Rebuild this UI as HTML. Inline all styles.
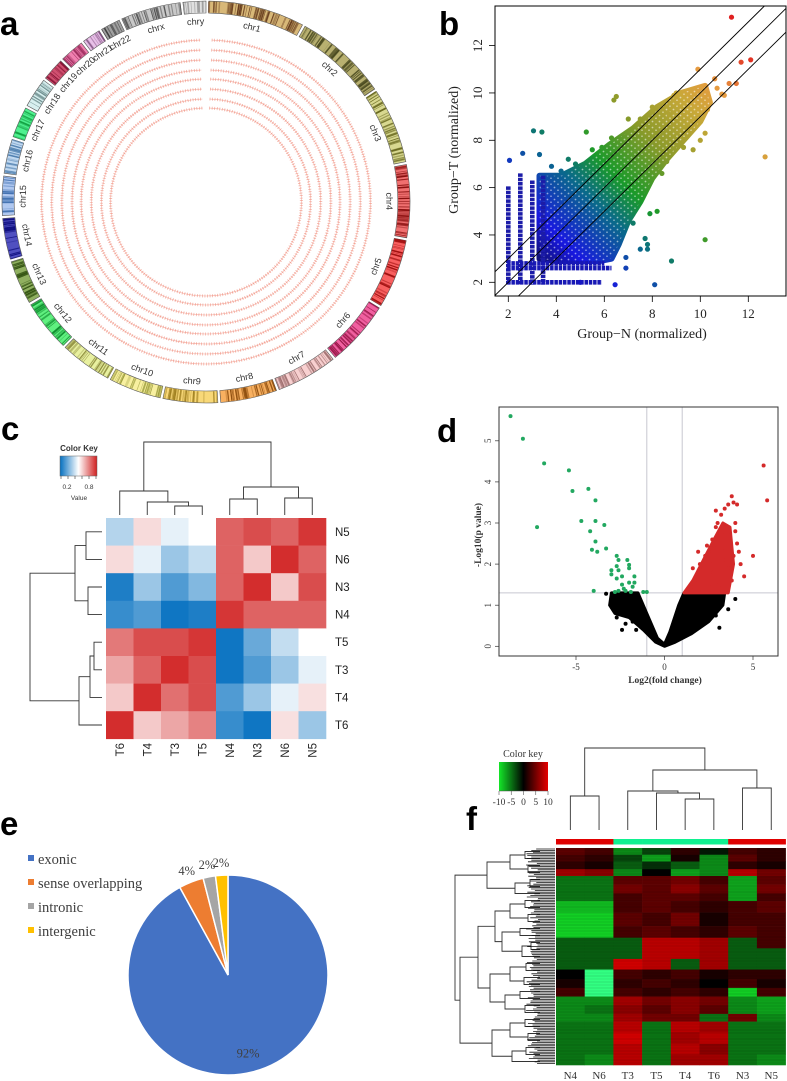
<!DOCTYPE html>
<html><head><meta charset="utf-8">
<style>
html,body{margin:0;padding:0;background:#fff;}
svg{display:block;}
</style></head>
<body>
<svg id="fig" width="787" height="1081" viewBox="0 0 787 1081" xmlns="http://www.w3.org/2000/svg">
<defs>
  <clipPath id="clipB"><rect x="495" y="6" width="291" height="290"/></clipPath>
  <clipPath id="clipD"><rect x="499" y="407" width="279" height="249"/></clipPath>
  <linearGradient id="keyC" x1="0" x2="1" y1="0" y2="0">
    <stop offset="0" stop-color="#0570c0"/><stop offset="0.5" stop-color="#ffffff"/><stop offset="1" stop-color="#d02020"/>
  </linearGradient>
  <linearGradient id="keyF" x1="0" x2="1" y1="0" y2="0">
    <stop offset="0" stop-color="#14e628"/><stop offset="0.5" stop-color="#000000"/><stop offset="1" stop-color="#e60000"/>
  </linearGradient>
  <pattern id="speckle" width="7" height="6" patternUnits="userSpaceOnUse">
    <circle cx="1.5" cy="1.5" r="0.9" fill="#fff"/><circle cx="5" cy="4.2" r="0.8" fill="#fff"/>
  </pattern>
</defs>
<g font-family="Liberation Sans, sans-serif" font-weight="bold" font-size="33" fill="#000">
  <text x="0" y="35">a</text>
  <text x="439" y="35">b</text>
  <text x="1" y="440">c</text>
  <text x="437" y="442">d</text>
  <text x="0" y="835">e</text>
  <text x="466" y="830">f</text>
</g>
</svg>
<script>
const NS='http://www.w3.org/2000/svg';
const svg=document.getElementById('fig');
function el(tag,parent){const e=document.createElementNS(NS,tag);(parent||svg).appendChild(e);return e;}
function at(e,o){for(const k in o)e.setAttribute(k,o[k]);return e;}
function txt(e,s){e.textContent=s;return e;}
let seed=7;function rnd(){seed=(seed*16807)%2147483647;return (seed-1)/2147483646;}

/* ================= Panel a: circos ================= */
const chrNames=['chr1','chr2','chr3','chr4','chr5','chr6','chr7','chr8','chr9','chr10','chr11','chr12','chr13','chr14','chr15','chr16','chr17','chr18','chr19','chr20','chr21','chr22','chrx','chry'];
const chrSizes=[249,243,198,191,181,171,159,146,141,136,135,134,115,107,103,90,81,78,59,63,48,51,155,59];
const chrBase=['#d8b878','#b8b070','#d8d890','#f07070','#f86060','#f060a0','#f8d0d0','#f8b060','#f8d878','#f8f0a0','#e8f0a0','#60f080','#90b060','#5050c0','#b0c8f0','#c0d8f0','#50f090','#d8f0f0','#d05070','#f080b0','#e8c0e8','#a0a0a0','#c8c8c8','#e0e0e0'];
const chrDark=['#6a4020','#4a4a20','#6a6a20','#8a1010','#a01010','#901040','#a07070','#905010','#a08020','#a0a040','#909040','#109030','#305010','#101080','#4070b0','#5080b0','#10a040','#709090','#801030','#a03060','#805080','#404040','#505050','#a0a0a0'];
const trackRadii=[162,152,142,132,123,113,103,94];
(function(){
  const g=el('g');at(g,{transform:'translate(206,202) scale(1.015,1)'});
  
  
  const total=chrSizes.reduce((a,b)=>a+b,0), gap=0.8, avail=360-gap*chrSizes.length;
  const R1=201,R0=189;
  const pt=(r,a)=>{const t=a*Math.PI/180;return [r*Math.sin(t),-r*Math.cos(t)];};
  let ang=gap;
  chrSizes.forEach((s,i)=>{
    const span=s/total*avail, a0=ang, a1=ang+span;
    const [x0,y0]=pt(R1,a0),[x1,y1]=pt(R1,a1),[x2,y2]=pt(R0,a1),[x3,y3]=pt(R0,a0);
    const large=span>180?1:0;
    const p=el('path',g);
    at(p,{d:`M${x0},${y0}A${R1},${R1} 0 ${large} 1 ${x1},${y1}L${x2},${y2}A${R0},${R0} 0 ${large} 0 ${x3},${y3}Z`,fill:chrBase[i],stroke:'#555','stroke-width':0.6});
    
    
    const n=Math.round(s/4);
    for(let k=0;k<n;k++){
      const a=a0+rnd()*span;const [ax,ay]=pt(R1-0.5,a),[bx,by]=pt(R0+0.5,a);
      const l=el('line',g);
      at(l,{x1:ax,y1:ay,x2:bx,y2:by,stroke:chrDark[i],'stroke-width':(0.4+rnd()*1.2).toFixed(2),opacity:(0.3+rnd()*0.7).toFixed(2)});
      
      
    }
    const mid=(a0+a1)/2; const flip=mid>95&&mid<265;
    const t=el('text',g);
    const [lx,ly]=pt(180,mid);
    at(t,{x:lx,y:ly,'font-family':'Liberation Sans, sans-serif','font-size':9,fill:'#333','text-anchor':'middle','dominant-baseline':'middle',transform:`rotate(${flip?mid+180:mid},${lx},${ly})`});
    txt(t,chrNames[i]);
    
    
    ang=a1+gap;
  });
  trackRadii.forEach(r=>{
    const [x0,y0]=pt(r,2),[x1,y1]=pt(r,358);
    const p=el('path',g);
    at(p,{d:`M${x0},${y0}A${r},${r} 0 1 1 ${x1},${y1}`,fill:'none',stroke:'#e8583c','stroke-width':3,'stroke-dasharray':'0.7 1.8',opacity:0.5});
    
    
    const p2=el('path',g);
    at(p2,{d:`M${x0},${y0}A${r},${r} 0 1 1 ${x1},${y1}`,fill:'none',stroke:'#f08070','stroke-width':0.6,opacity:0.6});
    
    
  });
})();

/* ================= Panel b: scatter ================= */
const bOutX=[11.3,11.7,12.1,11.2,11.5,10.6,9.9,12.7,10.2,8.8,8.1,6.45,3.05,3.4,6.4,6.5,2.6,2.05,5.25,3.3,8.2,7.7,7.8,7.8,7.5,6.9,6.9,10.0,10.2,9.7,11.0,10.3,9.5,8.9,8.0,7.0,7.5,6.3,5.9,5.5,4.8,4.2,10.7,10.9,9.3,9.8,8.6,8.4,7.2,6.8,9.0,5.0,4.5,3.8,7.9,8.7];
const bOutY=[13.2,11.3,11.4,10.4,10.4,10.6,11.0,7.3,3.8,2.9,1.9,1.9,8.4,8.35,9.7,9.85,7.45,7.15,8.35,7.4,5.0,3.85,3.6,3.4,3.4,3.05,2.6,8.0,8.3,7.6,9.9,9.3,8.5,9.9,9.4,8.9,8.9,8.1,7.7,7.6,7.0,6.7,10.2,9.95,7.7,8.9,7.1,6.6,4.5,4.1,10.0,2.0,7.2,6.9,4.9,9.1];
const bCloudX=[3.3,4.2,5.2,6.2,7.2,8.2,9.2,10.2,10.4,10.0,9.3,8.6,8.0,7.5,7.0,6.6,6.3,5.8,4.0,3.3];
const bCloudY=[6.5,6.5,7.0,7.8,8.5,9.4,10.0,10.3,9.6,8.8,8.0,7.2,6.4,5.4,4.6,3.6,3.0,2.9,2.9,3.0];
const bColX=[2.0,2.5,3.0,3.45];
const bColTop=[6.05,6.6,6.3,6.5];
const bRowY=[2.0,2.6,2.8];
const bRowEnd=[5.9,6.3,6.0];
const bTicks=[2,4,6,8,10,12];
const bDiag=[-1,0,1];
(function(){
  const bx=v=>508.3+(v-2)*24, by=v=>282.3-(v-2)*23.67;
  const stops=[[2,[16,16,106]],[4,[24,24,224]],[5.5,[10,106,138]],[6.5,[26,154,42]],[8,[138,154,42]],[9.5,[200,168,56]],[10.5,[232,154,64]],[12,[224,32,32]]];
  const col=s=>{if(s<=stops[0][0])return `rgb(${stops[0][1]})`;for(let i=1;i<stops.length;i++){if(s<=stops[i][0]){const t=(s-stops[i-1][0])/(stops[i][0]-stops[i-1][0]);const a=stops[i-1][1],b=stops[i][1];return `rgb(${a.map((v,k)=>Math.round(v+(b[k]-v)*t)).join(',')})`;}}return `rgb(${stops[stops.length-1][1]})`;};
  const defs=svg.querySelector('defs');
  const lg=el('linearGradient',defs);at(lg,{id:'bGrad',gradientUnits:'userSpaceOnUse',x1:bx(3),y1:by(3),x2:bx(11),y2:by(11)});
  stops.forEach(s=>{const st=el('stop',lg);at(st,{offset:Math.max(0,Math.min(1,(s[0]-3)/8)),'stop-color':`rgb(${s[1]})`});});
  const g=el('g');
  const gc=el('g',g);at(gc,{'clip-path':'url(#clipB)'});
  const pts=bCloudX.map((x,i)=>bx(x)+','+by(bCloudY[i])).join(' ');
  const poly=el('polygon',gc);
  at(poly,{points:pts,fill:'url(#bGrad)',stroke:'url(#bGrad)','stroke-width':6,'stroke-linejoin':'round'});
  
  const sp=el('polygon',gc);
  at(sp,{points:pts,fill:'url(#speckle)',opacity:0.55});
  
  bColX.forEach((x,i)=>{const r=el('line',gc);at(r,{x1:bx(x),x2:bx(x),y1:by(bColTop[i]),y2:by(1.9),stroke:'#1c1ca8','stroke-width':4.6,'stroke-dasharray':'3.5 0.8'});
    });
  bRowY.forEach((y,i)=>{const r=el('line',gc);at(r,{x1:bx(1.95),x2:bx(bRowEnd[i]),y1:by(y),y2:by(y),stroke:'#1818b4','stroke-width':4.6,'stroke-dasharray':'3.5 0.8'});
    });
  bOutX.forEach((x,i)=>{const c=el('circle',gc);at(c,{cx:bx(x),cy:by(bOutY[i]),r:2.6,fill:col((x+bOutY[i])/2)});
    });
  bDiag.forEach(d=>{const l=el('line',gc);at(l,{x1:bx(1),y1:by(1+d),x2:bx(14),y2:by(14+d),stroke:'#000','stroke-width':0.9});
    });
  const box=el('rect',g);at(box,{x:495,y:6,width:291,height:290,fill:'none',stroke:'#000','stroke-width':1});
  
  bTicks.forEach(v=>{
    const t=el('line',g);at(t,{x1:bx(v),x2:bx(v),y1:296,y2:302,stroke:'#000','stroke-width':0.8});
    
    const l=el('text',g);at(l,{x:bx(v),y:318,'text-anchor':'middle','font-family':'Liberation Serif, serif','font-size':13,fill:'#222'});txt(l,v);
    
    const t2=el('line',g);at(t2,{x1:489,x2:495,y1:by(v),y2:by(v),stroke:'#000','stroke-width':0.8});
    
    const l2=el('text',g);at(l2,{x:482,y:by(v),'text-anchor':'middle','font-family':'Liberation Serif, serif','font-size':13,fill:'#222',transform:`rotate(-90,482,${by(v)})`});txt(l2,v);
    
  });
  const xt=el('text',g);at(xt,{x:642,y:338,'text-anchor':'middle','font-family':'Liberation Serif, serif','font-size':14,fill:'#222'});txt(xt,'Group\u2212N (normalized)');
  
  const yt=el('text',g);at(yt,{x:458,y:150,'text-anchor':'middle','font-family':'Liberation Serif, serif','font-size':14,fill:'#222',transform:'rotate(-90,458,150)'});txt(yt,'Group\u2212T (normalized)');
  
})();

/* ================= Panel c: correlation heatmap ================= */
const cRows=['N5','N6','N3','N4','T5','T3','T4','T6'];
const cCols=['T6','T4','T3','T5','N4','N3','N6','N5'];
const cVals=[
 [0.35,0.58,0.45,0.50,0.85,0.90,0.85,0.95],
 [0.58,0.45,0.30,0.38,0.85,0.62,0.97,0.85],
 [0.05,0.30,0.15,0.25,0.85,0.97,0.62,0.90],
 [0.10,0.15,0.02,0.05,0.95,0.85,0.85,0.85],
 [0.80,0.90,0.90,0.95,0.02,0.20,0.38,0.50],
 [0.70,0.85,0.97,0.90,0.02,0.15,0.30,0.45],
 [0.62,0.97,0.82,0.90,0.15,0.30,0.45,0.57],
 [0.97,0.62,0.70,0.78,0.10,0.02,0.57,0.30]];
const cColTree={h:0.73,l:{h:0.24,l:0,r:{h:0.13,l:1,r:{h:0.09,l:2,r:3}}},r:{h:0.28,l:{h:0.16,l:4,r:5},r:{h:0.17,l:6,r:7}}};
const cRowTree={h:0.72,l:{h:0.27,l:{h:0.16,l:0,r:1},r:{h:0.14,l:2,r:3}},r:{h:0.23,l:{h:0.12,l:{h:0.08,l:4,r:5},r:6},r:7}};
function drawTree(node,pos,hp,g,horizontal,name){
  if(typeof node==='number') return [pos(node),hp(0)];
  const a=drawTree(node.l,pos,hp,g,horizontal,name),b=drawTree(node.r,pos,hp,g,horizontal,name);
  const h=hp(node.h);
  const p=el('path',g);
  const d=horizontal?`M${a[1]},${a[0]}H${h}V${b[0]}H${b[1]}`:`M${a[0]},${a[1]}V${h}H${b[0]}V${b[1]}`;
  at(p,{d:d,fill:'none',stroke:'#333','stroke-width':0.9});
  
  return [(a[0]+b[0])/2,h];
}
(function(){
  const x0=106,y0=518,cw=27.5,ch=27.6;
  const col=v=>{let a,b,t;if(v<0.5){a=[5,112,192];b=[255,255,255];t=v/0.5;}else{a=[255,255,255];b=[208,32,32];t=(v-0.5)/0.5;}return `rgb(${a.map((q,k)=>Math.round(q+(b[k]-q)*t)).join(',')})`;};
  const g=el('g');
  cVals.forEach((row,i)=>row.forEach((v,j)=>{
    const r=el('rect',g);at(r,{x:x0+j*cw,y:y0+i*ch,width:cw+0.3,height:ch+0.3,fill:col(v)});
    
  }));
  cRows.forEach((n,i)=>{const t=el('text',g);at(t,{x:335,y:y0+i*ch+ch/2+4,'font-family':'Liberation Sans, sans-serif','font-size':11.5,fill:'#222'});txt(t,n);
    });
  cCols.forEach((n,j)=>{const cx=x0+j*cw+cw/2+4;const t=el('text',g);at(t,{x:cx,y:743,'text-anchor':'end','font-family':'Liberation Sans, sans-serif','font-size':11.5,fill:'#222',transform:`rotate(-90,${cx},743)`});txt(t,n);
    });
  const gt=el('g',g);
  drawTree(cColTree,i=>x0+i*cw+cw/2,h=>515-h*100,gt,false,'dendrogram-branch');
  const gl=el('g',g);
  drawTree(cRowTree,i=>y0+i*ch+ch/2,h=>102-h*100,gl,true,'dendrogram-branch');
  const k=el('g',g);
  const kt=el('text',k);at(kt,{x:79,y:451,'text-anchor':'middle','font-family':'Liberation Sans, sans-serif','font-weight':'bold','font-size':8,fill:'#333'});txt(kt,'Color Key');
  
  const kr=el('rect',k);at(kr,{x:60,y:456,width:37,height:20,fill:'url(#keyC)',stroke:'#666','stroke-width':0.5});
  
  [0,0.2,0.4,0.6,0.8,1].forEach(v=>{const l=el('line',k);at(l,{x1:61+v*35,x2:61+v*35,y1:476,y2:479,stroke:'#333','stroke-width':0.6});
    });
  [['0.2',67],['0.8',89]].forEach(a=>{const t=el('text',k);at(t,{x:a[1],y:489,'text-anchor':'middle','font-family':'Liberation Sans, sans-serif','font-size':6.5,fill:'#333'});txt(t,a[0]);
    });
  const kv=el('text',k);at(kv,{x:79,y:500,'text-anchor':'middle','font-family':'Liberation Sans, sans-serif','font-size':6.5,fill:'#333'});txt(kv,'Value');
  
})();

/* ================= Panel d: volcano ================= */
const dGreenX=[-8.7,-8.0,-6.8,-5.4,-5.2,-4.3,-3.9,-7.2,-4.7,-3.9,-3.4,-4.2,-3.9,-4.1,-3.8,-3.3,-2.7,-2.6,-2.1,-2.0,-2.7,-3.0,-3.0,-2.6,-1.7,-1.7,-2.7,-2.4,-2.0,-2.4,-1.8,-4.0,-2.6,-2.2,-1.9,-1.2,-1.0,-2.8,-2.3,-2.0];
const dGreenY=[5.6,5.05,4.45,4.28,3.78,3.83,3.55,2.9,3.05,3.05,2.95,2.8,2.55,2.35,2.3,2.38,2.2,2.1,2.1,1.9,1.95,1.85,1.75,1.85,1.7,1.55,1.65,1.7,1.55,1.5,1.45,1.35,1.35,1.35,1.32,1.32,1.32,1.32,1.4,1.98];
const dRedX=[5.6,5.8,5.0,4.5,4.3,4.1,3.8,3.9,3.6,3.4,3.2,3.0,2.9,4.0,4.0,4.1,3.7,2.5,2.3,2.0,1.9,1.7,3.8,3.1,2.7,2.8,3.3,3.5,2.6,2.2,3.9,3.4,2.9,2.4,1.9,1.6,4.2,3.6,3.2,2.5,2.1,1.5,2.95,3.45,2.75];
const dRedY=[4.4,3.55,2.2,1.7,2.0,3.45,3.65,3.5,3.45,3.35,3.2,3.0,2.9,3.0,2.8,2.5,2.7,2.3,2.2,2.0,1.8,1.6,1.6,1.5,2.6,2.4,2.7,2.9,2.0,1.9,2.2,2.4,3.3,2.45,2.3,1.9,2.3,1.9,2.5,1.5,1.4,1.45,2.1,2.1,1.8];
const dRedCloudX=[1.1,1.6,2.2,2.8,3.3,3.7,3.9,3.6,3.0,2.0,1.2];
const dRedCloudY=[1.3,1.6,2.1,2.6,3.0,2.9,2.0,1.3,1.3,1.3,1.3];
const dBlackCloudX=[-3.0,-1.5,-1.0,-0.4,0.0,0.3,0.8,1.1,3.4,3.3,2.5,1.5,0.6,0.0,-0.5,-1.2,-2.0,-2.8,-3.1];
const dBlackCloudY=[1.3,1.3,0.8,0.2,0.05,0.35,1.0,1.3,1.3,1.0,0.6,0.3,0.1,0.0,0.1,0.4,0.7,0.8,1.0];
const dBlackX=[-2.7,-2.4,-1.8,4.0,3.1,-3.3,-2.9,-2.2,-1.6,-2.5,3.6,2.9];
const dBlackY=[0.7,0.4,0.6,1.15,0.45,1.28,0.95,0.55,0.4,1.1,0.9,0.75];
const dXTicks=[-5,0,5];
const dYTicks=[0,1,2,3,4,5];
const dFcCut=[-1,1];
const dPCut=1.3;
(function(){
  const dx=v=>664.5+v*17.7, dy=v=>646.3-v*41.1;
  const g=el('g');
  const gc=el('g',g);at(gc,{'clip-path':'url(#clipD)'});
  dFcCut.forEach(v=>{const l=el('line',gc);at(l,{x1:dx(v),x2:dx(v),y1:407,y2:656,stroke:'#c8c8d0','stroke-width':1});
    });
  const hl=el('line',gc);at(hl,{x1:499,x2:778,y1:dy(dPCut),y2:dy(dPCut),stroke:'#c8c8d0','stroke-width':1});
  
  const bc=el('polygon',gc);at(bc,{points:dBlackCloudX.map((x,i)=>dx(x)+','+dy(dBlackCloudY[i])).join(' '),fill:'#000',stroke:'#000','stroke-width':3,'stroke-linejoin':'round'});
  
  const rc=el('polygon',gc);at(rc,{points:dRedCloudX.map((x,i)=>dx(x)+','+dy(dRedCloudY[i])).join(' '),fill:'#d42a2a',stroke:'#d42a2a','stroke-width':3,'stroke-linejoin':'round'});
  
  dBlackX.forEach((x,i)=>{const c=el('circle',gc);at(c,{cx:dx(x),cy:dy(dBlackY[i]),r:2,fill:'#000'});
    });
  dRedX.forEach((x,i)=>{const c=el('circle',gc);at(c,{cx:dx(x),cy:dy(dRedY[i]),r:2,fill:'#d42a2a'});
    });
  dGreenX.forEach((x,i)=>{const c=el('circle',gc);at(c,{cx:dx(x),cy:dy(dGreenY[i]),r:2,fill:'#22a860'});
    });
  const box=el('rect',g);at(box,{x:499,y:407,width:279,height:249,fill:'none',stroke:'#333','stroke-width':1});
  
  dXTicks.forEach(v=>{const t=el('line',g);at(t,{x1:dx(v),x2:dx(v),y1:656,y2:660,stroke:'#333','stroke-width':0.7});
    
    const l=el('text',g);at(l,{x:dx(v),y:670,'text-anchor':'middle','font-family':'Liberation Serif, serif','font-size':9,fill:'#333'});txt(l,v);
    });
  dYTicks.forEach(v=>{const t=el('line',g);at(t,{x1:495,x2:499,y1:dy(v),y2:dy(v),stroke:'#333','stroke-width':0.7});
    
    const l=el('text',g);at(l,{x:491,y:dy(v),'text-anchor':'middle','font-family':'Liberation Serif, serif','font-size':9,fill:'#333',transform:`rotate(-90,491,${dy(v)})`});txt(l,v);
    });
  const xt=el('text',g);at(xt,{x:665,y:683,'text-anchor':'middle','font-family':'Liberation Serif, serif','font-size':9.5,'font-weight':'bold',fill:'#333'});txt(xt,'Log2(fold change)');
  
  const yt=el('text',g);at(yt,{x:481,y:535,'text-anchor':'middle','font-family':'Liberation Serif, serif','font-size':9.5,'font-weight':'bold',fill:'#333',transform:'rotate(-90,481,535)'});txt(yt,'-Log10(p value)');
  
})();

/* ================= Panel e: pie ================= */
const eLabels=['exonic','sense overlapping','intronic','intergenic'];
const eValues=[92,4,2,2];
const eColors=['#4472c4','#ed7d31','#a5a5a5','#ffc000'];
(function(){
  const cx=228,cy=975,R=100;
  const g=el('g');
  const tot=eValues.reduce((a,b)=>a+b,0);let a0=0;
  const pt=(r,a)=>{const t=a*Math.PI/180;return [cx+r*Math.sin(t),cy-r*Math.cos(t)];};
  eValues.forEach((v,i)=>{
    const span=v/tot*360,a1=a0+span;const [x0,y0]=pt(R,a0),[x1,y1]=pt(R,a1);
    const p=el('path',g);at(p,{d:`M${cx},${cy}L${x0},${y0}A${R},${R} 0 ${span>180?1:0} 1 ${x1},${y1}Z`,fill:eColors[i],stroke:'#fff','stroke-width':1.5});
    
    const mid=(a0+a1)/2;const [lx,ly]=i===0?pt(R*0.81,mid):pt(R*1.12,mid);
    const t=el('text',g);at(t,{x:lx,y:ly+4,'text-anchor':'middle','font-family':'Liberation Serif, serif','font-size':12.5,fill:'#404040'});txt(t,Math.round(v/tot*100)+'%');
    
    a0=a1;
  });
  eLabels.forEach((n,i)=>{const y=859+i*24;
    const r=el('rect',g);at(r,{x:28,y:y-4,width:6,height:6,fill:eColors[i]});
    
    const t=el('text',g);at(t,{x:38,y:y+5,'font-family':'Liberation Serif, serif','font-size':14.5,fill:'#404040'});txt(t,n);
    });
})();

/* ================= Panel f: expression heatmap ================= */
const fCols=['N4','N6','T3','T5','T4','T6','N3','N5'];
const fGroup=['N','N','T','T','T','T','N','N'];
const fRowH=[7,7,8,7,9,9,8,12,14,12,11,11,11,10,9,9,9,9,8,11,12,11,11];
const fVals=[
 [4,3,-6,-3,2,-1,3,2],
 [3,2,-3,-7,1,-6,4,2],
 [2,1,-4,-2,-4,-6,2,1],
 [7,6,-6,0,-7,-6,8,5],
 [-5,-5,4,4,5,3,-7,4],
 [-5,-5,5,4,6,4,-7,5],
 [-5,-5,3,4,4,3,-7,3],
 [-8,-8,3,4,3,2,3,4],
 [-9,-9,4,3,5,1,3,3],
 [-9,-9,3,4,3,2,4,3],
 [-4,-4,-4,8,8,7,-4,3],
 [-4,-4,-4,8,8,7,-4,-4],
 [-4,-4,9,8,-4,7,-4,-4],
 [0,-11,3,2,3,1,2,2],
 [1,-11,2,3,2,0,3,1],
 [3,-11,3,2,3,2,-9,3],
 [-6,-6,7,5,6,5,-6,-7],
 [-6,-5,6,4,6,4,-6,-7],
 [-6,-6,7,5,5,-5,5,-6],
 [-5,-5,8,-5,8,7,-5,-5],
 [-5,-5,9,-5,7,8,-5,-5],
 [-5,-5,8,-5,8,6,-5,-5],
 [-5,-6,8,-5,7,7,-5,-6]];
const fColTree={h:0.82,l:{h:0.34,l:0,r:1},r:{h:0.60,l:{h:0.39,l:2,r:{h:0.37,l:3,r:{h:0.31,l:4,r:5}}},r:{h:0.42,l:6,r:7}}};
const fRowTree={h:85,l:{h:53,l:{h:30,l:{h:15,l:0,r:1},r:{h:12,l:2,r:3}},r:{h:25,l:{h:10,l:4,r:5},r:6}},
 r:{h:80,l:{h:62,l:{h:45,l:{h:30,l:{h:15,l:7,r:8},r:{h:12,l:9,r:10}},r:{h:38,l:{h:20,l:11,r:12},r:{h:18,l:{h:9,l:13,r:14},r:15}}},
   r:{h:50,l:{h:30,l:{h:14,l:16,r:17},r:{h:16,l:18,r:19}},r:{h:35,l:{h:20,l:20,r:21},r:{h:15,l:22,r:23}}}},
   r:{h:48,l:{h:30,l:{h:15,l:24,r:25},r:{h:12,l:26,r:27}},r:{h:28,l:{h:14,l:28,r:29},r:30}}}};
(function(){
  const x0=556,y0=848,cw=28.7,H=217;
  const col=v=>{if(v<-10)return 'rgb(50,255,130)';const t=Math.min(1,Math.abs(v)/10);return v<0?`rgb(${Math.round(20*t)},${Math.round(230*t)},${Math.round(40*t)})`:`rgb(${Math.round(230*t)},0,0)`;};
  const g=el('g');
  const tot=fRowH.reduce((a,b)=>a+b,0);let y=y0;
  fVals.forEach((row,i)=>{const h=fRowH[i]/tot*H;
    row.forEach((v,j)=>{const r=el('rect',g);at(r,{x:x0+j*cw,y:y,width:cw+0.3,height:h+0.3,fill:col(v)});
      });
    y+=h;});
  for(let yy=y0+2;yy<y0+H;yy+=3){const l=el('line',g);at(l,{x1:x0,x2:x0+8*cw,y1:yy,y2:yy,stroke:'#000','stroke-width':0.5,opacity:(0.05+rnd()*0.2).toFixed(2)});
    }
  fGroup.forEach((gr,j)=>{const r=el('rect',g);at(r,{x:x0+j*cw,y:839,width:cw+0.3,height:5.5,fill:gr==='N'?'#e00000':'#10f090'});
    });
  fCols.forEach((n,j)=>{const t=el('text',g);at(t,{x:x0+j*cw+cw/2,y:1079,'text-anchor':'middle','font-family':'Liberation Serif, serif','font-size':11,fill:'#333'});txt(t,n);
    });
  const gt=el('g',g);
  drawTree(fColTree,i=>x0+i*cw+cw/2,h=>830-h*100,gt,false,'dendrogram-branch');
  const gl=el('g',g);
  drawTree(fRowTree,i=>y0+3.5+i*H/31,h=>540-h,gl,true,'dendrogram-branch');
  for(let yy=y0+1;yy<y0+H;yy+=1.6){const l=el('line',gl);at(l,{x1:538-rnd()*12,x2:555,y1:yy,y2:yy,stroke:'#111','stroke-width':0.8});
    }
  const k=el('g',g);
  const kt=el('text',k);at(kt,{x:523,y:757,'text-anchor':'middle','font-family':'Liberation Serif, serif','font-size':10,fill:'#333'});txt(kt,'Color key');
  
  const kr=el('rect',k);at(kr,{x:499,y:762,width:49,height:29,fill:'url(#keyF)'});
  
  const kl=el('line',k);at(kl,{x1:499,x2:548,y1:791,y2:791,stroke:'#555','stroke-width':0.6});
  
  [-10,-5,0,5,10].forEach(v=>{const x=499+(v+10)/20*49;
    const tk=el('line',k);at(tk,{x1:x,x2:x,y1:791,y2:795,stroke:'#555','stroke-width':0.6});
    
    const t=el('text',k);at(t,{x:x,y:805,'text-anchor':'middle','font-family':'Liberation Serif, serif','font-size':9.5,fill:'#333'});txt(t,v);
    });
})();
</script>
</body></html>
